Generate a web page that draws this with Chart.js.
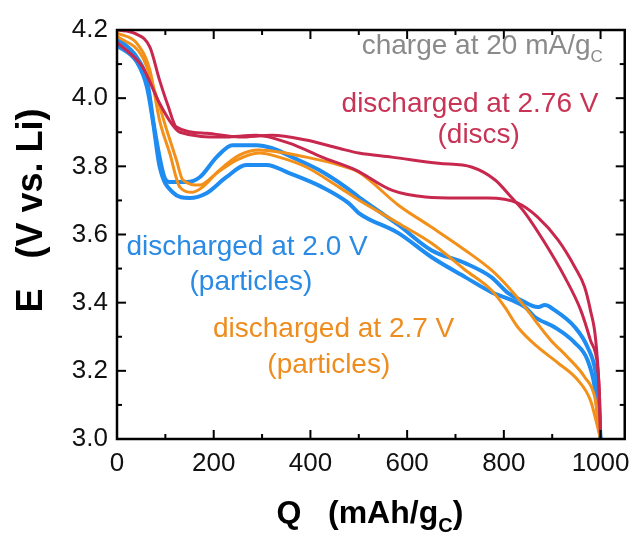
<!DOCTYPE html>
<html>
<head>
<meta charset="utf-8">
<script src="https://cdn.jsdelivr.net/npm/chart.js@4"></script>
<style>
  html, body { margin: 0; padding: 0; background: #ffffff; }
  #wrap { position: relative; width: 639px; height: 536px; }
</style>
</head>
<body>
<div id="wrap"><canvas id="c" width="639" height="536"></canvas></div>
<script>
// ---- tick labels ----
const xMajorTicks = [0, 200, 400, 600, 800, 1000];
const xMinorTicks = [100, 300, 500, 700, 900];
const yMajorTicks = [3.0, 3.2, 3.4, 3.6, 3.8, 4.0, 4.2];
const yMinorTicks = [3.1, 3.3, 3.5, 3.7, 3.9, 4.1];

// ---- series: discs, discharged at 2.76 V (red) ----
const red1Q = [0, 37, 68, 88, 105, 123, 185, 253, 321, 391, 459, 500, 568, 665, 733, 782, 815, 844, 885, 926, 959, 979, 994, 998, 1000];
const red1E = [4.20, 4.19, 4.15, 4.053, 3.98, 3.915, 3.897, 3.886, 3.891, 3.877, 3.853, 3.839, 3.827, 3.809, 3.798, 3.760, 3.710, 3.663, 3.575, 3.475, 3.378, 3.290, 3.211, 3.12, 3.0];
const red2Q = [0, 53, 88, 115, 130, 218, 288, 356, 424, 494, 568, 638, 706, 767, 829, 870, 912, 947, 967, 979, 990, 998, 1000];
const red2E = [4.164, 4.091, 3.985, 3.921, 3.900, 3.886, 3.891, 3.868, 3.827, 3.789, 3.730, 3.710, 3.707, 3.707, 3.692, 3.651, 3.584, 3.504, 3.446, 3.378, 3.290, 3.114, 3.0];

// ---- series: particles, discharged at 2.7 V (orange) ----
const orange1Q = [0, 41, 68, 88, 109, 130, 156, 177, 212, 253, 294, 335, 391, 459, 500, 582, 650, 720, 774, 809, 844, 864, 897, 932, 967, 988, 994, 1000];
const orange1E = [4.191, 4.161, 4.082, 3.935, 3.839, 3.739, 3.724, 3.739, 3.789, 3.833, 3.848, 3.842, 3.827, 3.804, 3.783, 3.686, 3.622, 3.554, 3.496, 3.446, 3.387, 3.349, 3.290, 3.240, 3.182, 3.123, 3.065, 3.0];
const orange2Q = [0, 53, 82, 103, 123, 136, 171, 206, 247, 294, 335, 391, 459, 500, 582, 650, 720, 774, 802, 829, 870, 912, 953, 979, 994, 1000];
const orange2E = [4.182, 4.12, 4.003, 3.906, 3.818, 3.760, 3.745, 3.780, 3.818, 3.839, 3.827, 3.798, 3.739, 3.701, 3.633, 3.575, 3.496, 3.437, 3.387, 3.328, 3.270, 3.223, 3.173, 3.114, 3.035, 3.0];

// ---- series: particles, discharged at 2.0 V (blue) ----
const blue1Q = [0, 41, 62, 74, 88, 115, 150, 185, 226, 267, 309, 356, 424, 479, 500, 582, 650, 720, 774, 815, 844, 864, 905, 947, 973, 988, 994, 1000];
const blue1E = [4.155, 4.106, 4.032, 3.935, 3.80, 3.724, 3.707, 3.721, 3.768, 3.804, 3.804, 3.780, 3.739, 3.692, 3.663, 3.604, 3.534, 3.475, 3.431, 3.408, 3.387, 3.358, 3.328, 3.282, 3.232, 3.152, 3.076, 3.0];
const blue2Q = [0, 41, 62, 78, 99, 109, 144, 171, 206, 239, 288, 321, 362, 418, 473, 500, 582, 650, 720, 774, 809, 835, 870, 885, 905, 947, 973, 990, 996, 1000];
const blue2E = [4.176, 4.12, 4.053, 3.906, 3.765, 3.754, 3.754, 3.768, 3.827, 3.862, 3.862, 3.853, 3.827, 3.789, 3.739, 3.710, 3.628, 3.554, 3.516, 3.475, 3.428, 3.408, 3.387, 3.393, 3.378, 3.328, 3.270, 3.194, 3.114, 3.0];

const RED = '#c8284e', ORANGE = '#f2901a', BLUE = '#1e8cf0';
const FONT = '"Liberation Sans", Arial, sans-serif';

function pts(qs, es) { return qs.map((q, i) => ({ x: q, y: es[i] })); }
function ds(qs, es, color, w) {
  return { data: pts(qs, es), borderColor: color, borderWidth: w, pointRadius: 0,
           fill: false, cubicInterpolationMode: 'monotone' };
}

// annotations: text parts, colour, anchor Q, baseline E, alignment
const notes = [
  { parts: [['charge at 20 mA/g', 0], ['C', 1]], color: '#8a8a8a', q: 506, e: 4.13, align: 'left' },
  { parts: [['discharged at 2.76 V', 0]], color: '#c73455', q: 730, e: 3.96, align: 'center' },
  { parts: [['(discs)', 0]], color: '#c73455', q: 748, e: 3.868, align: 'center' },
  { parts: [['discharged at 2.0 V', 0]], color: '#2a8ae4', q: 269, e: 3.54, align: 'center' },
  { parts: [['(particles)', 0]], color: '#2a8ae4', q: 277, e: 3.437, align: 'center' },
  { parts: [['discharged at 2.7 V', 0]], color: '#ee8c1e', q: 448, e: 3.299, align: 'center' },
  { parts: [['(particles)', 0]], color: '#ee8c1e', q: 438, e: 3.193, align: 'center' }
];

function drawParts(ctx, parts, x, y, size, bold, align) {
  const fMain = (bold ? 'bold ' : '') + size + 'px ' + FONT;
  const fSub = (bold ? 'bold ' : '') + Math.round(size * 0.62) + 'px ' + FONT;
  let total = 0;
  parts.forEach(p => { ctx.font = p[1] ? fSub : fMain; total += ctx.measureText(p[0]).width; });
  let cx = align === 'center' ? x - total / 2 : x;
  ctx.textAlign = 'left';
  ctx.textBaseline = 'alphabetic';
  parts.forEach(p => {
    ctx.font = p[1] ? fSub : fMain;
    ctx.fillText(p[0], cx, y + (p[1] ? size * 0.28 : 0));
    cx += ctx.measureText(p[0]).width;
  });
}

const framePlugin = {
  id: 'frame',
  afterDraw(chart) {
    const ctx = chart.ctx, a = chart.chartArea;
    const xs = chart.scales.x, ys = chart.scales.y;
    ctx.save();
    ctx.strokeStyle = '#000'; ctx.lineWidth = 2.5;
    ctx.strokeRect(a.left, a.top, a.right - a.left, a.bottom - a.top);
    ctx.lineWidth = 2;
    const tick = (x1, y1, x2, y2) => { ctx.beginPath(); ctx.moveTo(x1, y1); ctx.lineTo(x2, y2); ctx.stroke(); };
    xMajorTicks.concat(xMinorTicks).forEach(v => {
      const L = xMajorTicks.includes(v) ? 9 : 5;
      const px = xs.getPixelForValue(v);
      tick(px, a.bottom, px, a.bottom - L);
      tick(px, a.top, px, a.top + L);
    });
    yMajorTicks.concat(yMinorTicks).forEach(v => {
      const L = yMajorTicks.includes(v) ? 9 : 5;
      const py = ys.getPixelForValue(v);
      tick(a.left, py, a.left + L, py);
      tick(a.right, py, a.right - L, py);
    });
    notes.forEach(n => {
      ctx.fillStyle = n.color;
      drawParts(ctx, n.parts, xs.getPixelForValue(n.q), ys.getPixelForValue(n.e), 28, false, n.align);
    });
    ctx.fillStyle = '#000';
    drawParts(ctx, [['Q   (mAh/g', 0], ['C', 1], [')', 0]], (a.left + a.right) / 2 - 1, 523, 32, true, 'center');
    ctx.translate(42, (a.top + a.bottom) / 2 - 24);
    ctx.rotate(-Math.PI / 2);
    drawParts(ctx, [['E   (V vs. Li)', 0]], 0, 0, 36, true, 'center');
    ctx.restore();
  }
};

new Chart(document.getElementById('c'), {
  type: 'line',
  data: {
    datasets: [
      ds(red1Q, red1E, RED, 3),
      ds(red2Q, red2E, RED, 3),
      ds(orange1Q, orange1E, ORANGE, 3),
      ds(orange2Q, orange2E, ORANGE, 3),
      ds(blue1Q, blue1E, BLUE, 4),
      ds(blue2Q, blue2E, BLUE, 4)
    ]
  },
  options: {
    responsive: false,
    animation: false,
    devicePixelRatio: 1,
    layout: { padding: { top: 30, right: 11, left: 0, bottom: 0 } },
    plugins: { legend: { display: false }, tooltip: { enabled: false } },
    scales: {
      x: {
        type: 'linear', min: 0, max: 1050,
        afterBuildTicks: s => { s.ticks = xMajorTicks.map(v => ({ value: v })); },
        afterFit: s => { s.height = 97; },
        grid: { display: false, drawTicks: false }, border: { display: false },
        ticks: { font: { family: FONT, size: 26 }, color: '#111', padding: 9, maxRotation: 0, autoSkip: false,
                 callback: v => String(v) }
      },
      y: {
        type: 'linear', min: 3.0, max: 4.2,
        afterBuildTicks: s => { s.ticks = yMajorTicks.map(v => ({ value: v })); },
        afterFit: s => { s.width = 117; },
        grid: { display: false, drawTicks: false }, border: { display: false },
        ticks: { font: { family: FONT, size: 26 }, color: '#111', padding: 9, autoSkip: false,
                 callback: v => Number(v).toFixed(1) }
      }
    }
  },
  plugins: [framePlugin]
});
</script>
</body>
</html>
